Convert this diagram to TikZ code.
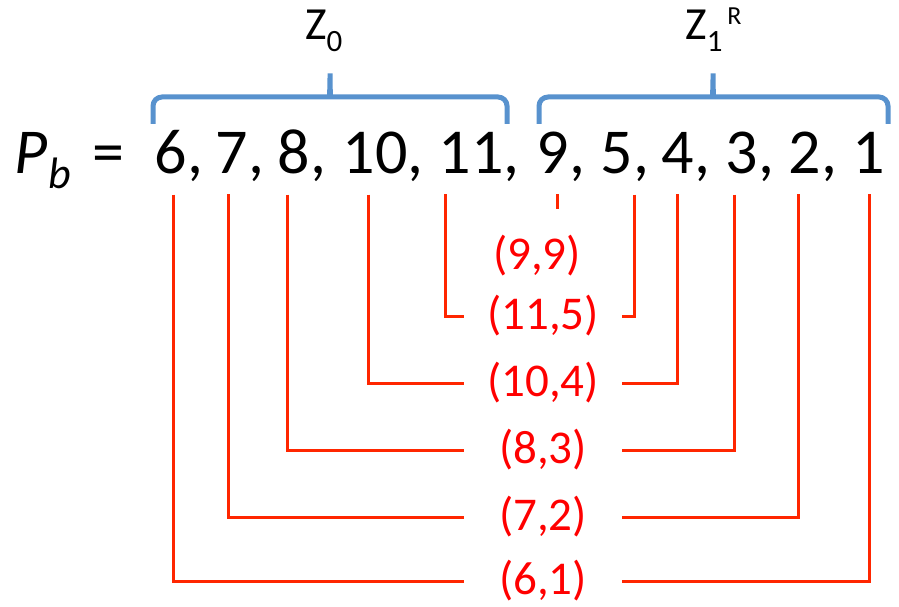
\documentclass[tikz,border=0pt]{standalone}
\usepackage{fontspec}
\setmainfont{Carlito}
\usepackage{xcolor}
\usepackage{tikz}
\definecolor{braceblue}{RGB}{88,146,206}
\definecolor{pairred}{RGB}{255,38,0}
\tikzset{
  num/.style={inner sep=0pt, anchor=base, font=\fontsize{64}{64}\selectfont},
  zlbl/.style={inner sep=0pt, anchor=base west, font=\fontsize{46}{46}\selectfont},
  pairlbl/.style={inner sep=0pt, minimum width=158pt, text=red,
    font=\fontsize{47}{47}\selectfont},
  brace/.style={draw=braceblue, line width=5pt, rounded corners=9pt},
  pair/.style={draw=pairred, line width=3pt}
}

\begin{document}
\begin{tikzpicture}[x=1pt, y=-1pt]
  \useasboundingbox (0,0) rectangle (899,607);

  \node[num, anchor=base west] (pb) at (14,173) {\itshape P\kern1pt\raisebox{-15pt}{\fontsize{44}{44}\selectfont b}};
  \node[num] (eq) at (108,173) {=};
  \foreach \val/\x/\dx [count=\i] in {6/171/2, 7/232/-4, 8/294/-7, 10/375/-7, 11/471/-26,
      9/553/4, 5/617/17, 4/678/-1, 3/742/-8, 2/805/-7, 1/869/0} {
    \node[num] (v\i) at (\x,173) {\val};
    \ifnum\i<11 \node[num, anchor=base west] (c\i) at (v\i.base east) {,};\fi
    \coordinate (t\i) at ([xshift=\dx pt, yshift=-21pt]v\i.south);
  }

  \draw[brace] (153,124) -- (153,97) -- (321,97) .. controls (329,97) and (330,92) .. (330,68)
    .. controls (330,92) and (331,97) .. (339,97) -- (507,97) -- (507,124);
  \draw[brace] (539,124) -- (539,97) -- (704,97) .. controls (712,97) and (713,92) .. (713,68)
    .. controls (713,92) and (714,97) .. (722,97) -- (888,97) -- (888,124);
  \node[zlbl] (z0) at (305,40) {Z\raisebox{-12pt}{\fontsize{31}{31}\selectfont 0}};
  \node[zlbl] (z1) at (685,40) {Z\raisebox{-12pt}{\fontsize{31}{31}\selectfont 1}\kern5pt\raisebox{15pt}{\fontsize{26}{26}\selectfont R}};

  \node[text=red, inner sep=0pt, font=\fontsize{47}{47}\selectfont] (l9) at (537,256) {(9,9)};
  \node[pairlbl] (l5) at (543,316) {(11,5)};
  \node[pairlbl] (l4) at (543,383) {(10,4)};
  \node[pairlbl] (l3) at (543,450) {(8,3)};
  \node[pairlbl] (l2) at (543,517) {(7,2)};
  \node[pairlbl] (l1) at (543,581) {(6,1)};

  \draw[pair] (t6) -- ++(0,15);
  \draw[pair] (t5) |- (l5.west);
  \draw[pair] (t7) |- (l5.east);
  \draw[pair] (t4) |- (l4.west);
  \draw[pair] (t8) |- (l4.east);
  \draw[pair] (t3) |- (l3.west);
  \draw[pair] (t9) |- (l3.east);
  \draw[pair] (t2) |- (l2.west);
  \draw[pair] (t10) |- (l2.east);
  \draw[pair] (t1) |- (l1.west);
  \draw[pair] (t11) |- (l1.east);
\end{tikzpicture}
\end{document}
